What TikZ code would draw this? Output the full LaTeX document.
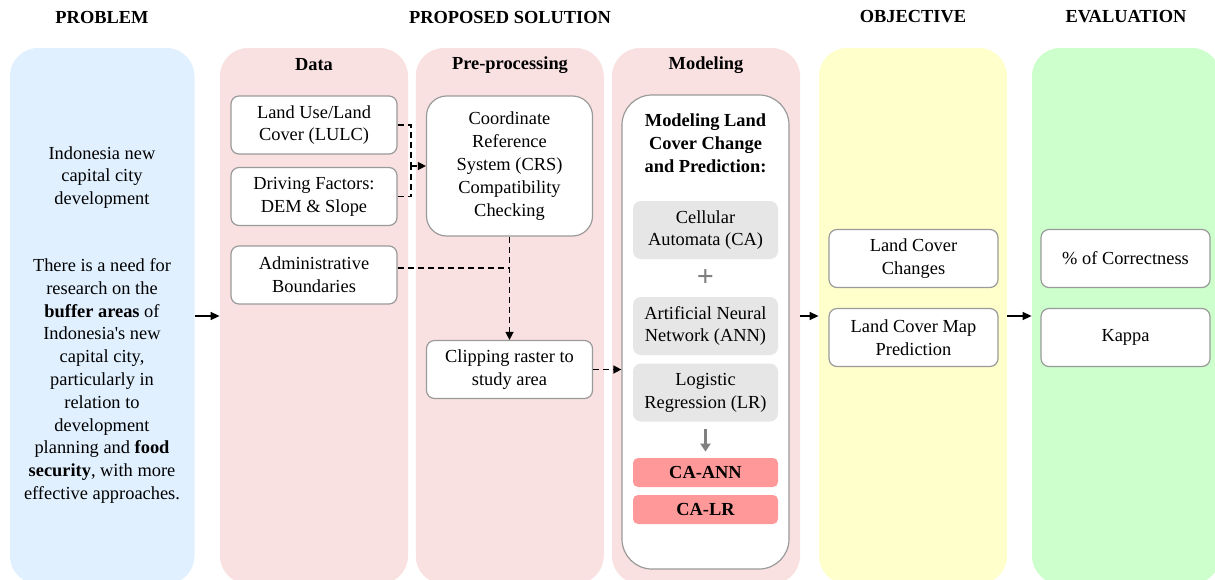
\documentclass[tikz,border=0pt]{standalone}
\usepackage{fontspec}
\setmainfont{Liberation Serif}
\usetikzlibrary{arrows.meta}

\definecolor{probblue}{HTML}{E0F0FF}
\definecolor{solpink}{HTML}{FAE1E1}
\definecolor{objyellow}{HTML}{FFFFCC}
\definecolor{evalgreen}{HTML}{CCFFCC}
\definecolor{boxgray}{HTML}{9A9A9A}
\definecolor{methgray}{HTML}{E6E6E6}
\definecolor{hybridred}{HTML}{FF9999}
\definecolor{plusgray}{HTML}{808080}

\begin{document}
\begin{tikzpicture}[x=0.5pt,y=-0.5pt,
  font=\fontsize{9.2pt}{11.4pt}\selectfont,
  lane/.style={rounded corners=14pt, minimum width=94pt, minimum height=268pt, inner sep=0pt},
  header/.style={font=\fontsize{9.2pt}{11.4pt}\selectfont\bfseries},
  whitebox/.style={draw=boxgray, fill=white, line width=0.6pt, rounded corners=4pt, align=center,
    minimum width=83pt, minimum height=29pt, inner sep=1pt},
  methbox/.style={fill=methgray, rounded corners=4pt, align=center,
    minimum width=72.5pt, minimum height=29pt, inner sep=1pt},
  hybridbox/.style={fill=hybridred, rounded corners=2.5pt, font=\fontsize{9.2pt}{11.4pt}\selectfont\bfseries,
    minimum width=72.5pt, minimum height=14.5pt, inner sep=0pt},
  dashconn/.style={line width=0.7pt, dash pattern=on 3pt off 2pt},
  tip/.style={-{Triangle[length=4pt,width=4pt]}},
  flowarrow/.style={line width=0.7pt, -{Triangle[length=4.5pt,width=4pt]}}]

  \clip (0,0) rectangle (1215,579);
  \useasboundingbox (0,0) rectangle (1215,579);

  % draw the headers
  \node[header] (hproblem) at (102,17) {PROBLEM};
  \node[header] (hsolution) at (510,17) {PROPOSED SOLUTION};
  \node[header] (hobjective) at (913,17) {OBJECTIVE};
  \node[header] (hevaluation) at (1126,17) {EVALUATION};

  % draw the coloured lanes
  \node[lane, fill=probblue, minimum width=92.25pt] (problem) at (102.25,316) {};
  \node[lane, fill=solpink] (data) at (314,316) {};
  \node[lane, fill=solpink] (prep) at (509.75,316) {};
  \node[lane, fill=solpink] (modeling) at (706,316) {};
  \node[lane, fill=objyellow] (objective) at (913,316) {};
  \node[lane, fill=evalgreen] (evaluation) at (1126,316) {};

  \node[header] (tdata) at (314,65) {Data};
  \node[header] (tprep) at (510,65) {Pre-processing};
  \node[header] (tmodeling) at (706,65) {Modeling};

  % problem statement
  \node[align=center] (issue) at (102,177.5) {Indonesia new\\capital city\\development};
  \node[align=center] (need) at (102,381) {There is a need for\\research on the\\\textbf{buffer areas} of\\Indonesia\textquotesingle s new\\capital city,\\particularly in\\relation to\\development\\planning and \textbf{food}\\\textbf{security}, with more\\effective approaches.};

  % data and pre-processing boxes
  \node[whitebox] (lulc) at (314,125) {Land Use/Land\\Cover (LULC)};
  \node[whitebox] (driving) at (314,196.5) {Driving Factors:\\DEM \& Slope};
  \node[whitebox] (admin) at (314,275) {Administrative\\Boundaries};
  \node[whitebox, minimum height=70pt, rounded corners=10pt] (crs) at (509.5,166) {Coordinate\\Reference\\System (CRS)\\Compatibility\\Checking};
  \node[whitebox] (clip) at (509.5,369.5) {Clipping raster to\\study area};

  % modeling box
  \node[whitebox, minimum width=83.5pt, minimum height=237pt, rounded corners=15pt] (modbox) at (705.5,332) {};
  \node[header, align=center] (modtitle) at (705.5,143) {Modeling Land\\Cover Change\\and Prediction:};
  \node[methbox] (ca) at (705.5,230) {Cellular\\Automata (CA)};
  \node[text=plusgray, font=\fontsize{15pt}{15pt}\selectfont\bfseries] (plus) at (705.5,278) {+};
  \node[methbox] (ann) at (705.5,326) {Artificial Neural\\Network (ANN)};
  \node[methbox] (lr) at (705.5,392.5) {Logistic\\Regression (LR)};
  \node[hybridbox] (caann) at (705.5,472.5) {CA-ANN};
  \node[hybridbox] (calr) at (705.5,509.5) {CA-LR};
  \draw[plusgray, line width=1.2pt, -{Triangle[length=4pt,width=5pt]}, shorten <=3.5pt, shorten >=3pt] (lr.south) -- (caann.north);

  % objective and evaluation boxes
  \node[whitebox, minimum width=84.5pt] (changes) at (913.5,258.5) {Land Cover\\Changes};
  \node[whitebox, minimum width=84.5pt] (mappred) at (913.5,337.5) {Land Cover Map\\Prediction};
  \node[whitebox, minimum width=84.5pt] (correct) at (1125.5,258.5) {\% of Correctness};
  \node[whitebox, minimum width=84.5pt] (kappa) at (1125.5,337.5) {Kappa};

  % dashed connectors
  \coordinate (joinA) at (411,166);
  \coordinate (joinB) at (509.5,268);
  \draw[dashconn] (lulc.east) -| (joinA);
  \draw[dashconn] (driving.east) -| (joinA);
  \draw[dashconn, tip] (joinA) -- (crs.west);
  \draw[dashconn] (admin.east |- joinB) -- (joinB);
  \draw[dashconn, tip] (crs.south) -- (clip.north);
  \draw[dashconn, tip] (clip.east) -- (clip.east -| modbox.west);

  % lane to lane arrows
  \draw[flowarrow] (problem.east) -- (data.west);
  \draw[flowarrow] (modeling.east) -- (objective.west);
  \draw[flowarrow] (objective.east) -- (evaluation.west);
\end{tikzpicture}
\end{document}
